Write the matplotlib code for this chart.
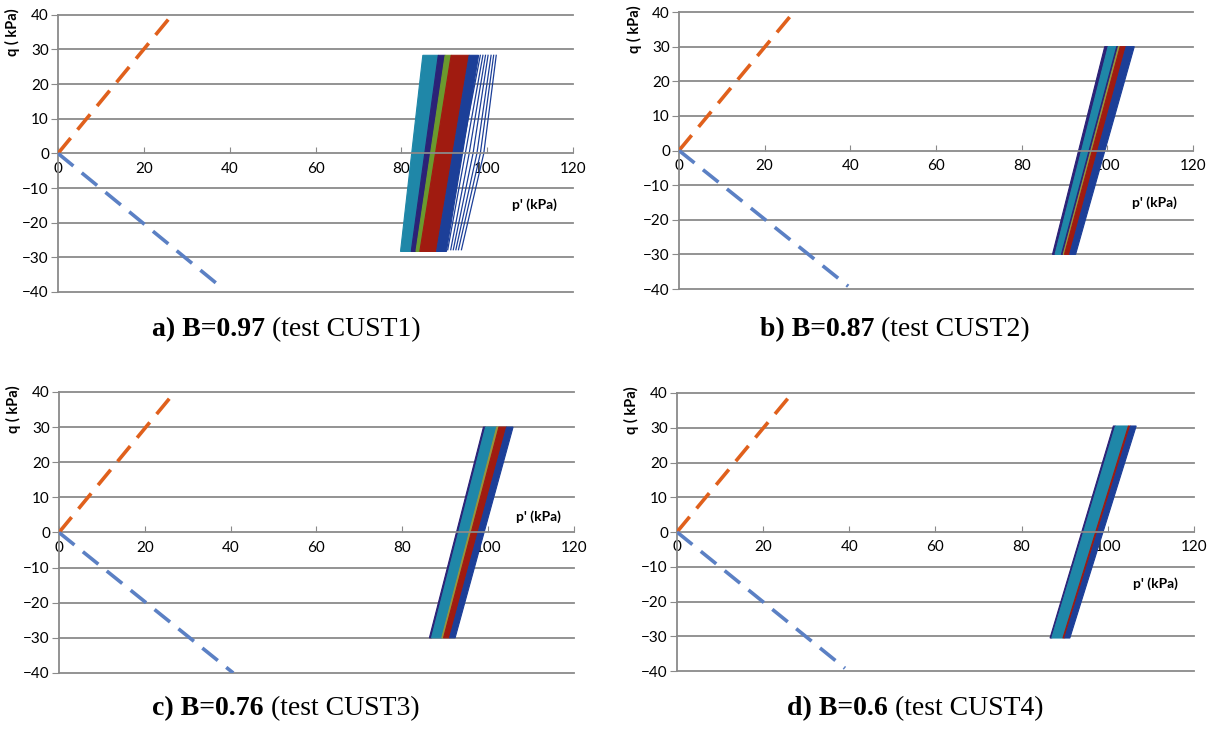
"""
Effective stress paths (q - p') for the four cyclic tests CUST1..CUST4
"""

import matplotlib
matplotlib.use("Agg")
import matplotlib.pyplot as plt
from matplotlib.offsetbox import TextArea, HPacker, AnnotationBbox

plt.rcParams['font.family'] = ['Lato', 'DejaVu Sans']

# ---- data ----
P_TICKS = [0, 20, 40, 60, 80, 100, 120]
Q_TICKS = [-40, -30, -20, -10, 0, 10, 20, 30, 40]

caption_bold = ["a) B=0.97", "b) B=0.87", "c) B=0.76", "d) B=0.6"]
caption_rest = [" (test CUST1)", " (test CUST2)", " (test CUST3)", " (test CUST4)"]

# failure lines through the origin
comp_end_p = [26.6, 26.8, 27.0, 26.8]     # p' where compression line hits q=40
comp_end_q = [40.0, 40.0, 40.0, 40.0]
ext_end_p = [37.6, 39.5, 40.6, 39.0]      # extension line end
ext_end_q = [-38.2, -39.2, -40.0, -39.2]

# cyclic amplitude of q per test
q_amp = [28.3, 30.0, 30.0, 30.5]

# band edges (p') at q = -amp and q = +amp, left to right
edges_bot_a = [79.8, 82.3, 83.4, 84.3, 88.2, 90.5]
edges_top_a = [85.0, 88.6, 90.2, 91.6, 95.8, 98.0]
edges_bot_b = [87.2, 87.8, 89.3, 89.7, 90.0, 91.2, 92.6]
edges_top_b = [99.4, 100.2, 102.2, 102.6, 103.0, 104.4, 106.3]
edges_bot_c = [86.3, 86.8, 89.2, 89.6, 91.0, 92.3]
edges_top_c = [98.9, 99.4, 102.0, 102.5, 104.3, 105.8]
edges_bot_d = [86.6, 87.0, 89.6, 90.0, 91.2]
edges_top_d = [101.3, 101.8, 104.8, 105.3, 106.6]

# loose late cycles of test CUST1 (p' at q=-amp, q=0, q=+amp)
loose_bot_a = [90.0, 90.8, 91.5, 92.1, 92.7, 93.3, 94.0]
loose_mid_a = [94.0, 94.9, 95.8, 96.7, 97.6, 98.4, 99.2]
loose_top_a = [98.4, 99.0, 99.6, 100.2, 100.9, 101.5, 102.1]

# ---- styles ----
TEAL = '#1f87a8'
NAVY = '#2b2277'
GREEN = '#6b9a2e'
OLIVE = '#96963c'
RED = '#a01b10'
BLUE = '#1c3f98'
GRID = '#8a8a8a'

band_colors = [
    [TEAL, NAVY, GREEN, RED, BLUE],
    [NAVY, TEAL, NAVY, OLIVE, RED, BLUE],
    [NAVY, TEAL, OLIVE, RED, BLUE],
    [NAVY, TEAL, RED, BLUE],
]
edges_bot = [edges_bot_a, edges_bot_b, edges_bot_c, edges_bot_d]
edges_top = [edges_top_a, edges_top_b, edges_top_c, edges_top_d]

# axes rectangles in figure fractions (left, bottom, width, height)
AX_RECTS = [
    [0.0479, 0.6086, 0.4253, 0.3716],
    [0.5607, 0.6126, 0.4244, 0.3713],
    [0.0487, 0.0979, 0.4253, 0.3767],
    [0.5590, 0.1005, 0.4269, 0.3727],
]
XLABEL_POS = [(111, -14.9), (111, -15.2), (111.7, 4.5), (111, -14.9)]
CAPTION_POS = [(286 / 1211, 1 - 330 / 746), (895 / 1211, 1 - 330 / 746),
               (286 / 1211, 1 - 709 / 746), (915 / 1211, 1 - 709 / 746)]


def style_axes(ax):
    ax.set_xlim(0, 120)
    ax.set_ylim(-40, 40)
    for s in ['top', 'right']:
        ax.spines[s].set_visible(False)
    ax.spines['bottom'].set_position(('data', 0))
    for s in ['left', 'bottom']:
        ax.spines[s].set_color(GRID)
        ax.spines[s].set_linewidth(1.3)
    for q in Q_TICKS:
        if q != 0:
            ax.axhline(q, color=GRID, lw=1.3, zorder=0.5, clip_on=False)
    ax.set_xticks(P_TICKS)
    ax.set_yticks(Q_TICKS)
    ax.tick_params(axis='x', direction='in', length=4, color=GRID,
                   labelsize=11, pad=6)
    ax.tick_params(axis='y', direction='out', length=5, color=GRID,
                   labelsize=11, pad=1.5)
    ax.set_facecolor('white')


fig = plt.figure(figsize=(12.11, 7.46), dpi=100)

for i, rect in enumerate(AX_RECTS):
    ax = fig.add_axes(rect)
    style_axes(ax)

    # failure lines
    ax.plot([0, comp_end_p[i]], [0, comp_end_q[i]], color='#e0601c', lw=2.6,
            dashes=(5.5, 3), zorder=3, solid_capstyle='butt')
    ax.plot([0, ext_end_p[i]], [0, ext_end_q[i]], color='#5b80c4', lw=2.6,
            dashes=(5.5, 3), zorder=3)

    # stress path bands
    qa = q_amp[i]
    bot = edges_bot[i]
    top = edges_top[i]
    for k, c in enumerate(band_colors[i]):
        ax.fill([bot[k], bot[k + 1], top[k + 1], top[k]],
                [-qa, -qa, qa, qa], color=c, ec=c, lw=0.8, zorder=2)

    if i == 0:
        for pb, pm, pt in zip(loose_bot_a, loose_mid_a, loose_top_a):
            ax.plot([pb, pm, pt], [-qa + 0.5, 0, qa], color=BLUE, lw=0.9,
                    zorder=2)

    ax.text(-10.5, 35.0, 'q ( kPa)', rotation=90, fontsize=10.5,
            weight='bold', ha='center', va='center', clip_on=False)
    ax.text(*XLABEL_POS[i], "p' (kPa)", fontsize=10, weight='bold',
            ha='center', va='center')

    # caption: bold part + regular part
    t1 = TextArea(caption_bold[i], textprops=dict(
        family='Liberation Serif', fontsize=20, weight='bold'))
    t2 = TextArea(caption_rest[i], textprops=dict(
        family='Liberation Serif', fontsize=20))
    box = HPacker(children=[t1, t2], align='baseline', pad=0, sep=0)
    ab = AnnotationBbox(box, CAPTION_POS[i], xycoords='figure fraction',
                        frameon=False, box_alignment=(0.5, 0.5))
    fig.add_artist(ab)

fig.savefig('out.png', dpi=100, facecolor='white')
